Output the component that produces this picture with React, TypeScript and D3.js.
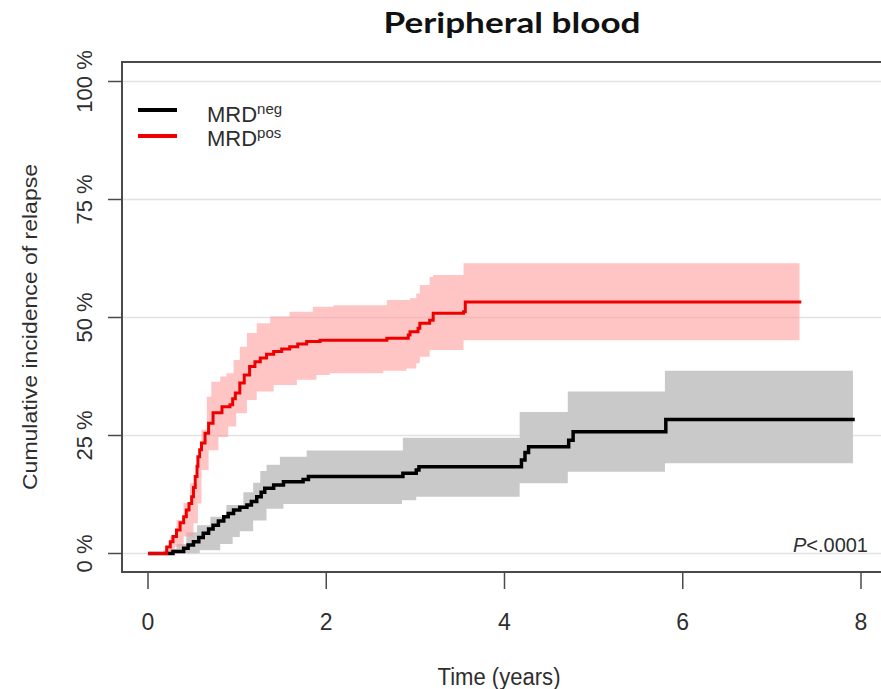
import React from "react";
import * as d3 from "d3";

// step-function estimates: [years, cumulative incidence]
const posCurve: [number, number][] = [
  [0, 0], [0.17, 0], [0.21, 0.014], [0.25, 0.025], [0.28, 0.036], [0.32, 0.05],
  [0.36, 0.065], [0.4, 0.078], [0.43, 0.092], [0.46, 0.106], [0.49, 0.12],
  [0.51, 0.14], [0.53, 0.163], [0.55, 0.185], [0.56, 0.205], [0.58, 0.22],
  [0.6, 0.234], [0.64, 0.255], [0.68, 0.276], [0.73, 0.298], [0.83, 0.311],
  [0.92, 0.315], [0.95, 0.328], [0.98, 0.34], [1.03, 0.361], [1.08, 0.378],
  [1.14, 0.396], [1.2, 0.406], [1.26, 0.414], [1.33, 0.422], [1.41, 0.428],
  [1.5, 0.433], [1.59, 0.438], [1.68, 0.444], [1.78, 0.449], [1.93, 0.452],
  [2.68, 0.456], [2.92, 0.463], [2.94, 0.47], [3.03, 0.477], [3.05, 0.488],
  [3.16, 0.494], [3.2, 0.509], [3.54, 0.512], [3.56, 0.533], [7.33, 0.533],
];
const posUpper: [number, number][] = [
  [0, 0], [0.17, 0.007], [0.25, 0.036], [0.32, 0.071], [0.4, 0.107],
  [0.47, 0.149], [0.55, 0.205], [0.6, 0.262], [0.66, 0.332], [0.71, 0.364],
  [0.81, 0.375], [0.88, 0.382], [0.96, 0.41], [1.03, 0.438], [1.11, 0.467],
  [1.22, 0.488], [1.37, 0.502], [1.59, 0.512], [1.85, 0.523], [2.08, 0.526],
  [2.68, 0.537], [2.94, 0.541], [3.01, 0.551], [3.05, 0.569], [3.16, 0.586],
  [3.2, 0.59], [3.54, 0.615], [7.31, 0.615],
];
const posLower: [number, number][] = [
  [0, 0], [0.2, 0], [0.3, 0.015], [0.4, 0.036], [0.51, 0.064], [0.56, 0.106],
  [0.6, 0.177], [0.68, 0.219], [0.79, 0.247], [0.9, 0.269], [0.99, 0.297],
  [1.11, 0.325], [1.22, 0.343], [1.41, 0.357], [1.67, 0.368], [1.89, 0.378],
  [2.04, 0.382], [2.64, 0.387], [2.9, 0.392], [3.01, 0.403], [3.05, 0.417],
  [3.16, 0.431], [3.54, 0.452], [7.31, 0.452],
];
const negCurve: [number, number][] = [
  [0, 0], [0.17, 0], [0.28, 0.004], [0.4, 0.011], [0.45, 0.018], [0.51, 0.025],
  [0.57, 0.034], [0.62, 0.043], [0.68, 0.052], [0.73, 0.06], [0.79, 0.069],
  [0.85, 0.078], [0.9, 0.085], [0.96, 0.092], [1.03, 0.098], [1.11, 0.103],
  [1.16, 0.11], [1.22, 0.12], [1.27, 0.13], [1.31, 0.138], [1.41, 0.145],
  [1.52, 0.152], [1.74, 0.157], [1.8, 0.163], [2.86, 0.17], [3.01, 0.177],
  [3.04, 0.184], [4.19, 0.198], [4.23, 0.214], [4.27, 0.226], [4.72, 0.24],
  [4.77, 0.258], [5.81, 0.284], [7.93, 0.284],
];
const negUpper: [number, number][] = [
  [0, 0], [0.21, 0.01], [0.32, 0.02], [0.43, 0.045], [0.55, 0.06], [0.7, 0.078],
  [0.88, 0.103], [1.07, 0.13], [1.18, 0.15], [1.26, 0.175], [1.33, 0.188],
  [1.48, 0.205], [1.78, 0.218], [2.86, 0.245], [4.17, 0.3], [4.71, 0.343],
  [5.8, 0.387], [7.91, 0.387],
];
const negLower: [number, number][] = [
  [0, 0], [0.28, 0], [0.58, 0.007], [0.81, 0.02], [0.95, 0.035], [1.03, 0.047],
  [1.18, 0.07], [1.33, 0.095], [1.52, 0.105], [2.85, 0.113], [3.01, 0.12],
  [4.17, 0.149], [4.71, 0.173], [5.8, 0.191], [7.91, 0.191],
];

const xTicks = [0, 2, 4, 6, 8];
const yTicks = [0, 0.25, 0.5, 0.75, 1];
const yTickLabels = ["0 %", "25 %", "50 %", "75 %", "100 %"];

const W = 881;
const H = 689;
const box = { left: 122, top: 62, right: 892, bottom: 572 };
const sans = "'Liberation Sans', Arial, sans-serif";

function stepAt(pts: [number, number][], t: number) {
  let v = pts[0][1];
  for (const p of pts) if (p[0] <= t) v = p[1];
  return v;
}

function bandData(up: [number, number][], lo: [number, number][]) {
  const end = up[up.length - 1][0];
  const times = Array.from(new Set([...up, ...lo].map((d) => d[0])))
    .filter((t) => t <= end)
    .sort((a, b) => a - b);
  return times.map((t) => ({ t, hi: stepAt(up, t), lo: stepAt(lo, t) }));
}

export default function App() {
  const x = d3.scaleLinear().domain([0, 8]).range([148, 861]);
  const y = d3.scaleLinear().domain([0, 1]).range([553.5, 81.5]);

  const line = d3
    .line<[number, number]>()
    .x((d) => x(d[0]))
    .y((d) => y(d[1]))
    .curve(d3.curveStepAfter);
  const area = d3
    .area<{ t: number; hi: number; lo: number }>()
    .x((d) => x(d.t))
    .y0((d) => y(d.lo))
    .y1((d) => y(d.hi))
    .curve(d3.curveStepAfter);

  const axisCol = "#4a4a4a";
  const textCol = "#2e2e2e";

  return (
    <svg
      width={W}
      height={H}
      style={{ position: "absolute", left: 0, top: 0, background: "#fff" }}
    >
      <text
        x={512}
        y={33}
        textAnchor="middle"
        fontFamily="Lato, 'Open Sans', sans-serif"
        fontWeight="bold"
        fontSize={28}
        textLength={257}
        lengthAdjust="spacingAndGlyphs"
        fill="#111"
      >
        Peripheral blood
      </text>

      {yTicks.map((v) => (
        <line
          key={"g" + v}
          x1={box.left}
          x2={W}
          y1={y(v)}
          y2={y(v)}
          stroke="#e2e2e2"
          strokeWidth={1.5}
        />
      ))}

      <path d={area(bandData(negUpper, negLower)) || ""} fill="#c9c9c9" />
      <path d={area(bandData(posUpper, posLower)) || ""} fill="#ff9f9f" fillOpacity={0.6} />
      <path d={line(negCurve) || ""} fill="none" stroke="#000" strokeWidth={3.5} />
      <path d={line(posCurve) || ""} fill="none" stroke="#ee0000" strokeWidth={3} />

      <rect
        x={box.left}
        y={box.top}
        width={box.right - box.left}
        height={box.bottom - box.top}
        fill="none"
        stroke={axisCol}
        strokeWidth={2}
      />

      {xTicks.map((t) => (
        <g key={"x" + t}>
          <line x1={x(t)} x2={x(t)} y1={box.bottom} y2={box.bottom + 17} stroke={axisCol} strokeWidth={1.5} />
          <text x={x(t)} y={630} textAnchor="middle" fontFamily={sans} fontSize={23} fill={textCol}>
            {t}
          </text>
        </g>
      ))}
      {yTicks.map((v, i) => (
        <g key={"y" + v}>
          <line x1={box.left - 14} x2={box.left} y1={y(v)} y2={y(v)} stroke={axisCol} strokeWidth={1.5} />
          <text
            transform={`translate(92,${y(v)}) rotate(-90)`}
            textAnchor="middle"
            fontFamily={sans}
            fontSize={22}
            fill={textCol}
          >
            {yTickLabels[i]}
          </text>
        </g>
      ))}

      <text
        x={499}
        y={685}
        textAnchor="middle"
        fontFamily={sans}
        fontSize={23}
        textLength={123}
        lengthAdjust="spacingAndGlyphs"
        fill={textCol}
      >
        Time (years)
      </text>
      <text
        transform="translate(37,327) rotate(-90)"
        textAnchor="middle"
        fontFamily={sans}
        fontSize={21}
        textLength={326}
        lengthAdjust="spacingAndGlyphs"
        fill={textCol}
      >
        Cumulative incidence of relapse
      </text>

      <line x1={138} x2={177} y1={110} y2={110} stroke="#000" strokeWidth={4} />
      <line x1={138} x2={177} y1={136} y2={136} stroke="#ee0000" strokeWidth={4} />
      <text x={207} y={122} fontFamily={sans} fontSize={22} fill={textCol}>
        MRD
        <tspan fontSize={15} dy={-8}>neg</tspan>
      </text>
      <text x={207} y={146} fontFamily={sans} fontSize={22} fill={textCol}>
        MRD
        <tspan fontSize={15} dy={-8}>pos</tspan>
      </text>

      <text x={868} y={552} textAnchor="end" fontFamily={sans} fontSize={20} fill={textCol}>
        <tspan fontStyle="italic">P</tspan>
        {"<.0001"}
      </text>
    </svg>
  );
}
